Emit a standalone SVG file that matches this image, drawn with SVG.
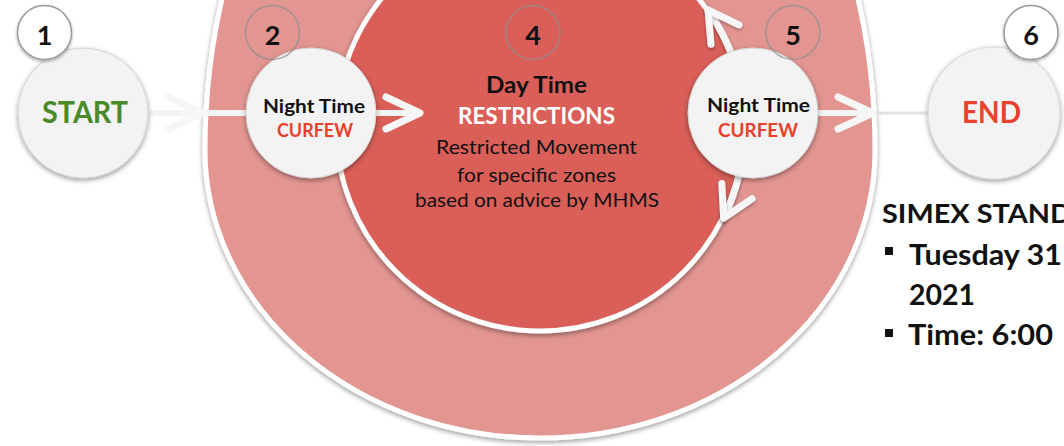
<svg xmlns="http://www.w3.org/2000/svg" width="1064" height="446" viewBox="0 0 1064 446">
<defs>
<filter id="sh" x="-20%" y="-20%" width="140%" height="140%">
<feDropShadow dx="0" dy="2" stdDeviation="2.5" flood-color="#000" flood-opacity="0.4"/>
</filter>
<filter id="shs" x="-30%" y="-30%" width="160%" height="160%">
<feDropShadow dx="0" dy="1.5" stdDeviation="1.5" flood-color="#000" flood-opacity="0.35"/>
</filter>
<style>
.t{font-family:Lato,"Liberation Sans",sans-serif;text-anchor:middle;}
.b{font-weight:700;}
.dk{fill:#111111;}
.red{fill:#e8412c;}
.grn{fill:#4a8a2a;}
.wh{fill:#ffffff;}
.node{fill:#f3f3f3;stroke:#d6d6d6;stroke-width:1;filter:url(#sh);}
.badge{fill:none;stroke:#8f8f8f;stroke-opacity:0.75;stroke-width:1.5;}
.badgew{fill:#ffffff;stroke:#9a9a9a;stroke-width:1.5;filter:url(#shs);}
.dig{font-size:27px;}
.ln{fill:none;stroke:#f4f4f4;stroke-width:6;stroke-linecap:round;}
.chev{fill:none;stroke:#f6f6f6;stroke-width:7;stroke-linecap:round;stroke-linejoin:round;}
.side{font-family:Lato,"Liberation Sans",sans-serif;font-weight:700;fill:#111;}
</style>
</defs>
<rect width="1064" height="446" fill="#ffffff"/>

<g id="ring">
<path d="M 205,150 A 335 288 0 0 0 875,150 A 335 480 0 0 0 205,150 Z" fill="#e29591" stroke="#ffffff" stroke-width="5" filter="url(#sh)"/>
</g>

<g id="node-4">
<circle cx="540" cy="127" r="204" fill="#d95f58" stroke="#ffffff" stroke-width="5" filter="url(#sh)"/>
<circle class="badge" cx="533" cy="32.5" r="27"/>
<text class="t b dk dig" x="533" y="45">4</text>
<text class="t b dk" x="536.5" y="93" font-size="22.5" textLength="101" lengthAdjust="spacingAndGlyphs">Day Time</text>
<text class="t b wh" x="536.5" y="124" font-size="22.5" textLength="157" lengthAdjust="spacingAndGlyphs">RESTRICTIONS</text>
<text class="t dk" x="536.5" y="154" font-size="20" textLength="201" lengthAdjust="spacingAndGlyphs">Restricted Movement</text>
<text class="t dk" x="536.5" y="182" font-size="20" textLength="159" lengthAdjust="spacingAndGlyphs">for specific zones</text>
<text class="t dk" x="537" y="207" font-size="20" textLength="244" lengthAdjust="spacingAndGlyphs">based on advice by MHMS</text>
</g>

<g id="connectors">
<line class="ln" x1="148" y1="113" x2="247" y2="113"/>
<path class="chev" d="M 168,97 L 203,113 L 168,129"/>
<line class="ln" x1="372" y1="113" x2="419" y2="113"/>
<path class="chev" d="M 386,97 L 420,113 L 386,129"/>
<line class="ln" x1="815" y1="113" x2="872" y2="113"/>
<line x1="872" y1="113" x2="930" y2="113" stroke="#e2e2e2" stroke-width="3"/>
<path class="chev" d="M 838,97 L 873,113 L 838,129"/>
<path class="chev" d="M 733,58 A 204 204 0 0 0 708,10" filter="url(#shs)"/>
<path class="chev" d="M 739,24.9 L 708,10 L 711,44.3" filter="url(#shs)"/>
<path class="chev" d="M 739,175 A 204 204 0 0 1 723.7,218" filter="url(#shs)"/>
<path class="chev" d="M 752.2,198.6 L 723.7,218 L 721.8,183.6" filter="url(#shs)"/>
</g>

<g id="node-1">
<circle class="node" cx="83" cy="113" r="65"/>
<circle class="badgew" cx="44.5" cy="32.5" r="27"/>
<text class="t b dk dig" x="44.5" y="45">1</text>
<text class="t b grn" x="85" y="123" font-size="30" textLength="86" lengthAdjust="spacingAndGlyphs">START</text>
</g>

<g id="node-2">
<circle class="node" cx="311" cy="113" r="65"/>
<circle class="badge" cx="272.5" cy="32.5" r="27"/>
<text class="t b dk dig" x="272.5" y="45">2</text>
<text class="t b dk" x="314" y="113" font-size="19.5" textLength="102" lengthAdjust="spacingAndGlyphs">Night Time</text>
<text class="t b red" x="315" y="137" font-size="19" textLength="76" lengthAdjust="spacingAndGlyphs">CURFEW</text>
</g>

<g id="node-5">
<circle class="node" cx="753" cy="113" r="65"/>
<circle class="badge" cx="793" cy="32.5" r="27"/>
<text class="t b dk dig" x="793" y="45">5</text>
<text class="t b dk" x="758.5" y="112" font-size="19.5" textLength="103" lengthAdjust="spacingAndGlyphs">Night Time</text>
<text class="t b red" x="758" y="137" font-size="19" textLength="80" lengthAdjust="spacingAndGlyphs">CURFEW</text>
</g>

<g id="node-6">
<circle class="node" cx="994" cy="113" r="66"/>
<circle class="badgew" cx="1031" cy="32.5" r="27"/>
<text class="t b dk dig" x="1031" y="45">6</text>
<text class="t b red" x="991.5" y="123" font-size="30" textLength="59" lengthAdjust="spacingAndGlyphs">END</text>
</g>

<g id="info">
<text class="side" x="882" y="223" font-size="27" textLength="190" lengthAdjust="spacingAndGlyphs">SIMEX STAND</text>
<rect x="885" y="247" width="8" height="8" fill="#111"/>
<text class="side" x="909" y="265" font-size="28.5" textLength="153" lengthAdjust="spacingAndGlyphs">Tuesday 31</text>
<text class="side" x="909" y="305" font-size="28.5" textLength="66" lengthAdjust="spacingAndGlyphs">2021</text>
<rect x="885" y="329" width="8" height="8" fill="#111"/>
<text class="side" x="908" y="345" font-size="28.5" textLength="145" lengthAdjust="spacingAndGlyphs">Time: 6:00</text>
</g>
</svg>
